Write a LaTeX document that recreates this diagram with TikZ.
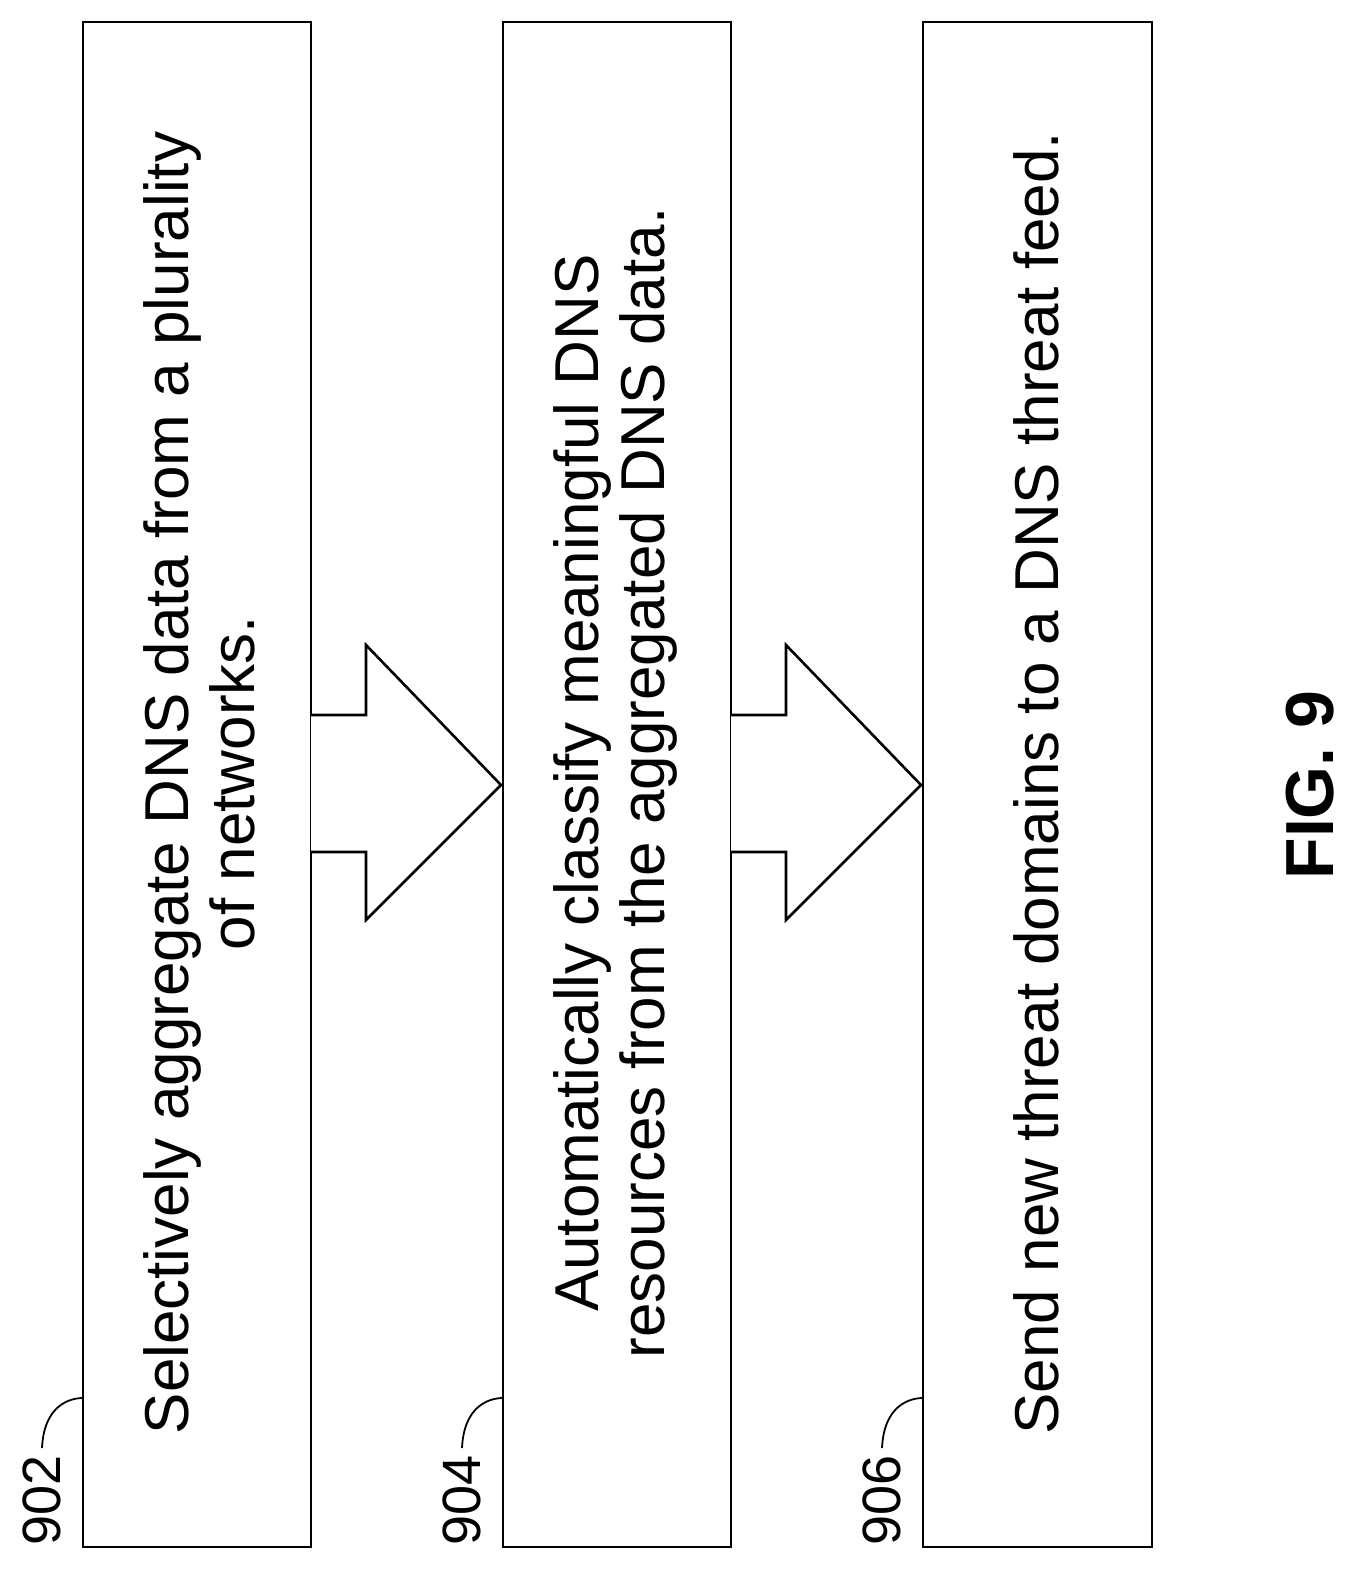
\documentclass[tikz,border=0pt]{standalone}
\usepackage{fontspec}
\setmainfont{Liberation Sans}
\begin{document}
\begin{tikzpicture}[x=1pt,y=-1pt,
  box/.style={draw,line width=2.6pt},
  txt/.style={rotate=90,align=center,font=\fontsize{62}{66}\selectfont},
  lbl/.style={rotate=90,font=\fontsize{54}{54}\selectfont}]
\useasboundingbox (0,0) rectangle (1362,1575);
\draw[box] (83,22) rectangle (311,1547);
\draw[box] (503,22) rectangle (731,1547);
\draw[box] (923,22) rectangle (1152,1547);
\node[txt] (t1) at (199,783) {Selectively aggregate DNS data from a plurality\\of networks.};
\node[txt] (t2) at (615,783) {Automatically classify meaningful DNS\\resources from the aggregated DNS data.};
\node[txt] (t3) at (1036,783) {Send new threat domains to a DNS threat feed.};
\foreach \a in {311,731}{
  \draw[line width=2.6pt,fill=white] (\a,715) -- (\a+55,715) -- (\a+55,645) -- (\a+190,785) -- (\a+55,920) -- (\a+55,852) -- (\a,852);
}
\foreach \x/\n in {0/902,420/904,840/906}{
  \node[lbl] (l\n) at (\x+42,1500) {\n};
  \coordinate (c\n) at (\x+83,1398);
  \draw[line width=1.8pt] (\x+42,1448) .. controls (\x+44,1405) and (\x+70,1398) .. (c\n);
}
\node[rotate=90,font=\bfseries\fontsize{68}{68}\selectfont] (fig) at (1310,785) {FIG. 9};
\end{tikzpicture}
\end{document}
